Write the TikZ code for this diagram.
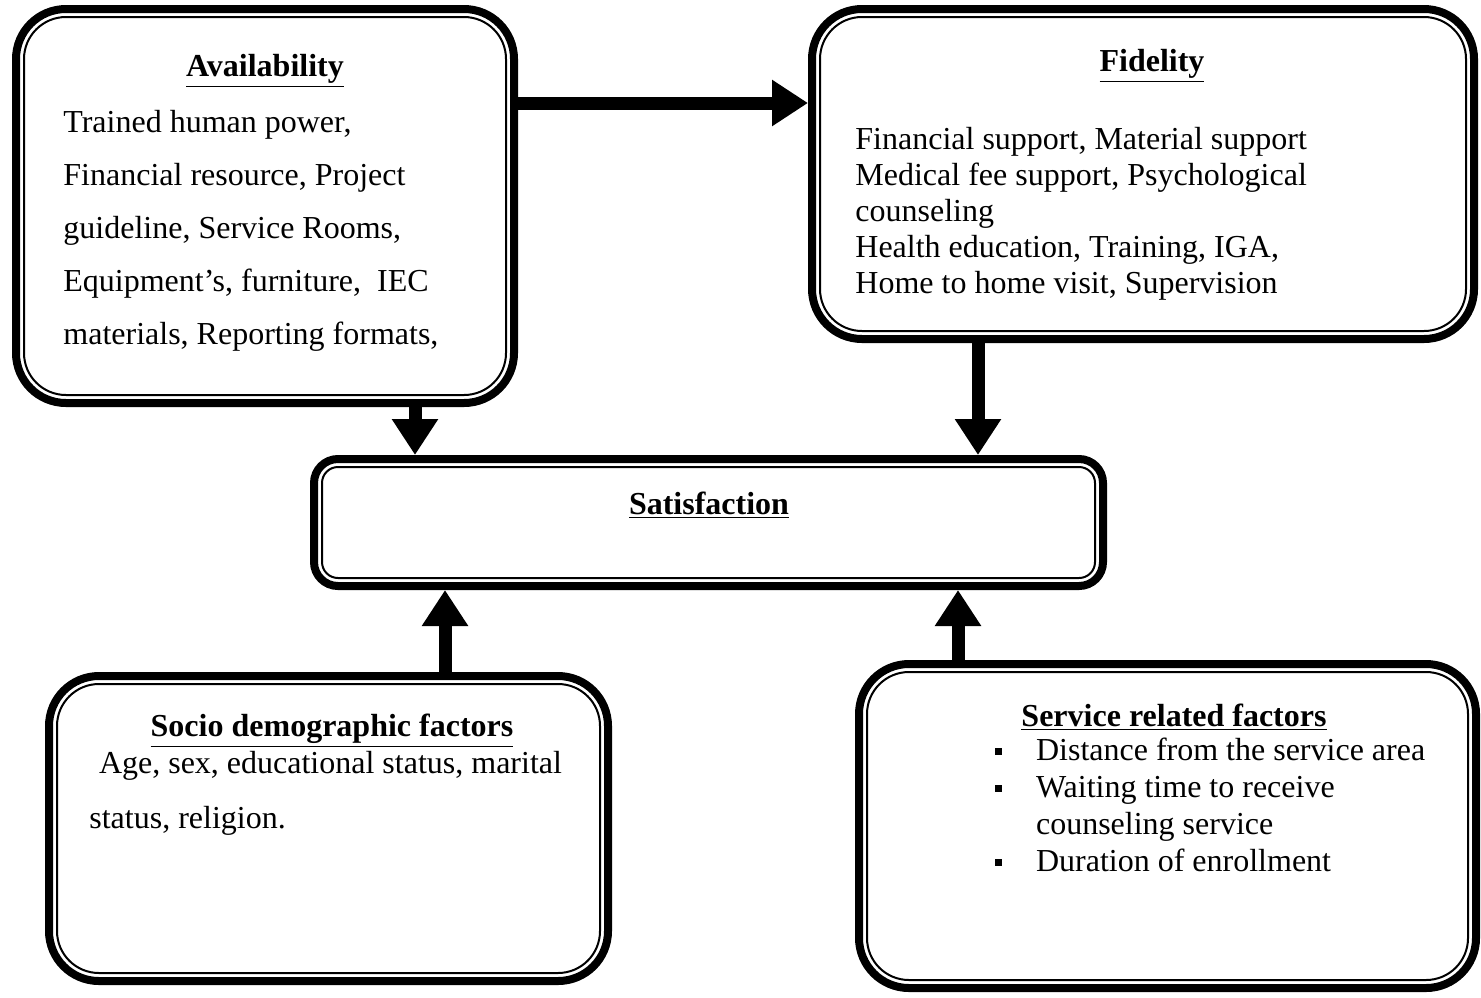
\documentclass[tikz,border=0pt]{standalone}
\usepackage{fontspec}
\setmainfont{Liberation Serif}
\usetikzlibrary{arrows.meta}
\newcommand{\innerframe}[2]{\draw[line width=1pt,rounded corners=#2] ([xshift=6pt,yshift=6pt]#1.south west) rectangle ([xshift=-6pt,yshift=-6pt]#1.north east);}
\newcommand{\sqbul}{\rule[0.2em]{0.22em}{0.22em}}
\begin{document}
\begin{tikzpicture}[x=0.5pt,y=-0.5pt,
  box/.style={draw=black,line width=4pt,rounded corners=25pt,inner sep=0pt},
  txt/.style={inner sep=0pt,anchor=north west,align=left},
  ttl/.style={inner sep=0pt,font=\fontsize{16pt}{18pt}\selectfont\bfseries},
  arr/.style={-{Triangle[width=22pt,length=18pt]},line width=6.5pt}]
\useasboundingbox (0,0) rectangle (1481,997);

% frames
\node[box,minimum width=249pt,minimum height=197pt] (avail) at (265,206){};
\node[box,minimum width=331pt,minimum height=165pt] (fidel) at (1143,174){};
\node[box,rounded corners=12pt,minimum width=394.5pt,minimum height=63.5pt] (satis) at (708.5,522.5){};
\node[box,minimum width=279.5pt,minimum height=152.5pt] (socio) at (328.5,828.5){};
\node[box,minimum width=308.5pt,minimum height=162pt] (serv) at (1167.5,826){};
\innerframe{avail}{21pt} \innerframe{fidel}{21pt} \innerframe{satis}{8pt}
\innerframe{socio}{21pt} \innerframe{serv}{21pt}

% texts
\node[ttl] (availT) at (265,71) {\underline{Availability}};
\node[txt,font=\fontsize{16pt}{26.5pt}\selectfont] (availL) at (63,110) {Trained human power,\\ Financial resource, Project\\ guideline, Service Rooms,\\ Equipment’s, furniture,\ \ IEC\\ materials, Reporting formats,};

\node[ttl] (fidelT) at (1152,66) {\underline{Fidelity}};
\node[txt,font=\fontsize{16pt}{18pt}\selectfont] (fidelL) at (855,127) {Financial support, Material support\\ Medical fee support, Psychological\\ counseling\\ Health education, Training, IGA,\\ Home to home visit, Supervision};

\node[ttl] (satisT) at (709,505) {\underline{Satisfaction}};

\node[ttl] (socioT) at (332,731) {\underline{Socio demographic factors}};
\node[txt,font=\fontsize{16pt}{27.5pt}\selectfont] (socioL) at (89,751) {\hspace{0.3em}Age, sex, educational status, marital\\ status, religion.};

\node[ttl] (servT) at (1174,717) {\underline{Service related factors}};
\node[txt,font=\fontsize{16pt}{18.5pt}\selectfont] (servL) at (995,738) {\sqbul\hspace{1.05em}Distance from the service area\\ \sqbul\hspace{1.05em}Waiting time to receive\\ \hphantom{\sqbul}\hspace{1.05em}counseling service\\ \sqbul\hspace{1.05em}Duration of enrollment};

% arrows
\draw[arr] (avail.east |- 0,103) -- (fidel.west |- 0,103);
\draw[arr] (avail.south -| 415,0) -- (satis.north -| 415,0);
\draw[arr] (fidel.south -| 978,0) -- (satis.north -| 978,0);
\draw[arr] (socio.north -| 445,0) -- (satis.south -| 445,0);
\draw[arr] (serv.north -| 958,0) -- (satis.south -| 958,0);
\end{tikzpicture}
\end{document}
